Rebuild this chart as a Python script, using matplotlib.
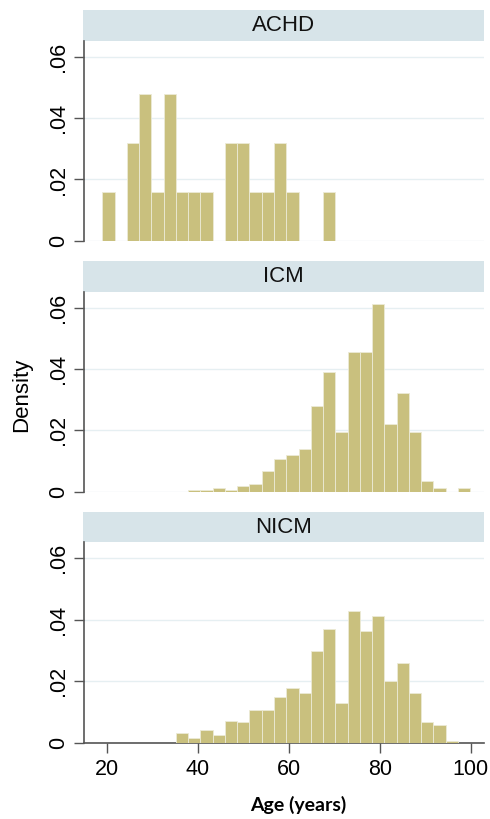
import numpy as np
import matplotlib
matplotlib.use("Agg")
import matplotlib.pyplot as plt

# histogram bins shared by all three panels (Stata-style, 30 bins)
BIN_START = 19.04
BIN_WIDTH = 2.694
N_BINS = 30

GROUPS = ["ACHD", "ICM", "NICM"]

# densities per bin (bin index -> density)
ACHD_DENS = [0.016, 0, 0.032, 0.048, 0.016, 0.048, 0.016, 0.016, 0.016, 0,
             0.032, 0.032, 0.016, 0.016, 0.032, 0.016, 0, 0, 0.016, 0,
             0, 0, 0, 0, 0, 0, 0, 0, 0, 0]
ICM_DENS = [0, 0, 0, 0, 0, 0, 0, 0.0005, 0.0005, 0.0013,
            0.0005, 0.002, 0.0026, 0.0067, 0.0105, 0.0119, 0.0139, 0.028, 0.0389, 0.0194,
            0.0457, 0.0457, 0.0611, 0.022, 0.0321, 0.0194, 0.0036, 0.0013, 0, 0.0013]
NICM_DENS = [0, 0, 0, 0, 0, 0, 0.0032, 0.0014, 0.0042, 0.0025,
             0.0072, 0.0066, 0.0106, 0.0106, 0.0148, 0.0179, 0.0161, 0.0299, 0.037, 0.013,
             0.043, 0.0364, 0.0411, 0.0202, 0.026, 0.0161, 0.0066, 0.0057, 0.0005, 0]

Y_TICKS = [0, 0.02, 0.04, 0.06]
Y_TICK_LABELS = ["0", ".02", ".04", ".06"]
X_TICKS = [20, 40, 60, 80, 100]

BAR_COLOR = "#c9c07e"
STRIP_COLOR = "#d7e4e9"
GRID_COLOR = "#e6eff2"
AXIS_COLOR = "#555555"

plt.rcParams["font.family"] = ["Liberation Sans", "DejaVu Sans"]

W, H = 490, 819
fig = plt.figure(figsize=(W / 100, H / 100), dpi=100)

def fx(px):
    return px / W

def fy(px):
    return 1 - px / H

# pixel layout: (strip top, strip bottom / plot top, plot bottom)
panels = [(10, 41, 240.7), (261, 291.7, 491.7), (512.3, 542.3, 742.7)]
left_px, right_px = 84, 484

edges = BIN_START + BIN_WIDTH * np.arange(N_BINS)
all_dens = [ACHD_DENS, ICM_DENS, NICM_DENS]

for i, (name, dens, (s_top, p_top, p_bot)) in enumerate(zip(GROUPS, all_dens, panels)):
    # strip header
    sax = fig.add_axes([fx(83), fy(p_top), fx(right_px - 83), (p_top - s_top) / H])
    sax.set_facecolor(STRIP_COLOR)
    sax.set_xticks([])
    sax.set_yticks([])
    for sp in sax.spines.values():
        sp.set_visible(False)
    sax.text(0.5, 0.5, name, ha="center", va="center", fontsize=16, color="#111111")

    ax = fig.add_axes([fx(left_px), fy(p_bot), fx(right_px - left_px), (p_bot - p_top) / H])
    ax.bar(edges, dens, width=BIN_WIDTH, align="edge", color=BAR_COLOR,
           edgecolor="#ecead6", linewidth=0.6, zorder=3)
    ax.set_xlim(15.0, 102.9)
    ax.set_ylim(0, 0.0652)
    ax.set_yticks(Y_TICKS)
    ax.set_yticklabels(Y_TICK_LABELS, rotation=90, va="center", fontsize=15.5)
    for y in Y_TICKS:
        ax.axhline(y, color=GRID_COLOR, linewidth=1.0, zorder=1)
    ax.tick_params(axis="y", length=7, width=1, color=AXIS_COLOR, pad=4)
    for sp in ["top", "right"]:
        ax.spines[sp].set_visible(False)
    ax.spines["left"].set_color(AXIS_COLOR)
    ax.spines["left"].set_linewidth(1.2)
    if i < 2:
        ax.spines["bottom"].set_visible(False)
        ax.set_xticks([])
    else:
        ax.spines["bottom"].set_color(AXIS_COLOR)
        ax.spines["bottom"].set_linewidth(1.2)
        ax.set_xticks(X_TICKS)
        ax.set_xticklabels([str(t) for t in X_TICKS], fontsize=15.5)
        ax.tick_params(axis="x", length=7, width=1, color=AXIS_COLOR, pad=5)

fig.text(fx(22), fy(395), "Density", rotation=90, ha="center", va="center", fontsize=16)
fig.text(fx(298), fy(805), "Age (years)", ha="center", va="center", fontsize=14,
         fontweight="bold", family=["Lato", "DejaVu Sans"])

fig.savefig("out.png", dpi=100)
